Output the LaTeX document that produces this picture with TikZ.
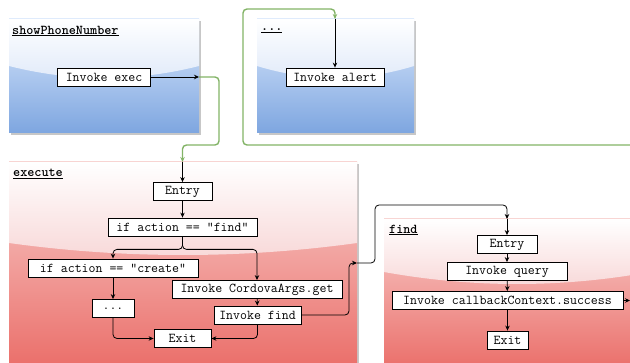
\documentclass[tikz,border=0pt]{standalone}
\usepackage{fontspec}
\usetikzlibrary{arrows.meta}
\definecolor{topb}{HTML}{DAE8FC}
\definecolor{botb}{HTML}{7EA6E0}
\definecolor{glsb}{HTML}{DFE9F9}
\definecolor{topr}{HTML}{F8CECC}
\definecolor{botr}{HTML}{EA6B66}
\definecolor{glsr}{HTML}{F8D8D8}
\definecolor{callgreen}{HTML}{82B366}

\begin{document}
\begin{tikzpicture}[x=1pt,y=-1pt]
        \tikzstyle{stmt}=[draw,fill=white,line width=0.8pt,minimum height=18pt,inner xsep=5pt,inner ysep=0pt,font=\ttfamily\fontsize{13.5}{15}\selectfont]
        \tikzstyle{ttl}=[anchor=west,inner sep=0pt,font=\ttfamily\bfseries\fontsize{13.5}{15}\selectfont]
        \tikzstyle{flow}=[->,>={Stealth[length=5pt,width=4.5pt]},line width=0.8pt,rounded corners=4pt]
        \tikzstyle{call}=[flow,draw=callgreen,line width=1.4pt]
        \useasboundingbox (0,0) rectangle (630,363);
        \clip (0,0) rectangle (630,363);
        % swimlanes
        \foreach \xa/\ya/\xb/\yb/\yg/\cl in {9/19/199/133/66/b,257/19/414/133/66/b,9/162/357/375/243/r,384/219/650/375/272/r}{
          \fill[black!22] (\xa+2,\ya+2) rectangle (\xb+2,\yb+2);
          \shade[top color=top\cl,bottom color=bot\cl] (\xa,\ya) rectangle (\xb,\yb);
          \shade[top color=white,bottom color=gls\cl] (\xa,\ya) -- (\xb,\ya) -- (\xb,\yg)
            .. controls ({\xb-(\xb-\xa)/3},\yg+16) and ({\xa+(\xb-\xa)/3},\yg+16) .. (\xa,\yg) -- cycle;
        }
        \node[ttl] (spnttl) at (12,31) {\underline{showPhoneNumber}};
        \node[ttl] (dotttl) at (261,31) {\underline{...}};
        \node[ttl] (exettl) at (13,174) {\underline{execute}};
        \node[ttl] (findttl) at (389,230) {\underline{find}};

        % showPhoneNumber / ...
        \node[stmt,minimum width=93pt] (exec) at (104,77) {Invoke exec};
        \node[stmt,minimum width=98pt] (alert) at (335,77) {Invoke alert};
        \coordinate (spnR) at (199,77);
        \coordinate (dotT) at (335,19);
        \coordinate (offR) at (634,145);

        % execute
        \node[stmt,minimum width=59pt] (eentry) at (182.5,191.5) {Entry};
        \node[stmt,minimum width=149pt] (iffind) at (182.5,227) {if action == "find"};
        \node[stmt,minimum width=170pt] (ifcreate) at (113,268) {if action == "create"};
        \node[stmt,minimum width=42pt] (more) at (113,308.5) {...};
        \node[stmt,minimum width=170pt] (getargs) at (257,289.5) {Invoke CordovaArgs.get};
        \node[stmt,minimum width=87pt] (callfind) at (257.5,315) {Invoke find};
        \node[stmt,minimum width=57pt] (eexit) at (182.5,338.5) {Exit};
        \coordinate (exeT) at (182.5,162);
        \coordinate (exeR) at (357,263);

        % find
        \node[stmt,minimum width=60pt] (fentry) at (507,244.5) {Entry};
        \node[stmt,minimum width=120pt] (query) at (507,271.5) {Invoke query};
        \node[stmt,minimum width=231pt] (success) at (507.5,300.5) {Invoke callbackContext.success};
        \node[stmt,minimum width=41pt] (fexit) at (507.5,340) {Exit};
        \coordinate (findT) at (507,219);
        \coordinate (findR) at (630,300.5);

        % connectors
        \draw[flow] (exec) -- (spnR);
        \draw[call] (spnR) -| (219,145) -| (exeT);
        \draw[call] (offR) -| (243,9) -| (dotT);
        \draw[flow] (dotT) -- (alert);
        \draw[flow] (exeT) -- (eentry);
        \draw[flow] (eentry) -- (iffind);
        \draw[flow] (iffind.south) -- ++(0,13) -| (ifcreate.north);
        \draw[flow] (iffind.south) -- ++(0,13) -| (getargs.north);
        \draw[flow] (ifcreate) -- (more);
        \draw[flow] (more.south) |- (eexit.west);
        \draw[flow] (getargs) -- (callfind);
        \draw[flow] (callfind.south) |- (eexit.east);
        \draw[flow] (callfind.east) -| (349,285) |- (exeR);
        \draw[flow] (exeR) -| (375,205) -| (findT);
        \draw[flow] (findT) -- (fentry);
        \draw[flow] (fentry) -- (query);
        \draw[flow] (query) -- (success);
        \draw[flow] (success) -- (fexit);
        \draw[flow] (success.east) -- (findR);
\end{tikzpicture}
\end{document}
